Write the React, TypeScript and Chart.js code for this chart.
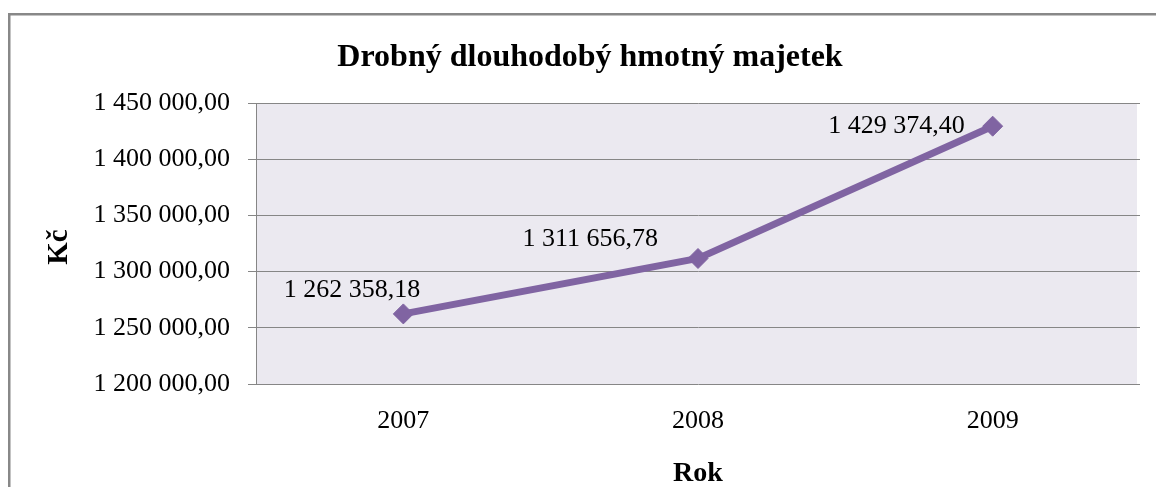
import { useEffect, useRef } from "react";
import { Chart, registerables } from "chart.js";

Chart.register(...registerables);

// Data
const years = ["2007", "2008", "2009"];
const values = [1262358.18, 1311656.78, 1429374.4];
const yMin = 1200000;
const yMax = 1450000;
const yStep = 50000;

const chartTitle = "Drobný dlouhodobý hmotný majetek";
const xAxisTitle = "Rok";
const yAxisTitle = "Kč";

// Where each value label sits relative to its point (right edge / baseline)
const labelOffsets = [
  { dx: 17, dy: -17 },
  { dx: -40, dy: -12 },
  { dx: -28, dy: 7 },
];

const FONT = "'Liberation Serif', 'Times New Roman', serif";
const LINE = "#8064a2";
const GRID = "#868686";
const PLOT_BG = "#ebe9f0";

function formatCz(v: number): string {
  const [intPart, dec] = v.toFixed(2).split(".");
  const grouped = intPart.replace(/\B(?=(\d{3})+(?!\d))/g, " ");
  return grouped + "," + dec;
}

const backdrop = {
  id: "backdrop",
  beforeDraw(chart: any) {
    const { ctx, chartArea, width, height } = chart;
    ctx.save();
    ctx.fillStyle = "#ffffff";
    ctx.fillRect(0, 0, width, height);
    // outer frame of the chart object
    ctx.strokeStyle = "#888888";
    ctx.lineWidth = 2.5;
    ctx.strokeRect(9.25, 14.25, width + 40, height + 40);
    // plot area fill
    ctx.fillStyle = PLOT_BG;
    ctx.fillRect(chartArea.left, chartArea.top, chartArea.right - chartArea.left - 3, chartArea.bottom - chartArea.top);
    ctx.restore();
  },
};

const titles = {
  id: "titles",
  afterDraw(chart: any) {
    const { ctx, chartArea } = chart;
    ctx.save();
    ctx.fillStyle = "#000000";
    ctx.textBaseline = "alphabetic";
    ctx.textAlign = "center";
    ctx.font = `bold 32px ${FONT}`;
    ctx.fillText(chartTitle, 590, 66);

    ctx.font = `bold 28px ${FONT}`;
    ctx.fillText(xAxisTitle, (chartArea.left + chartArea.right) / 2, 481);

    ctx.translate(67, 247);
    ctx.rotate(-Math.PI / 2);
    ctx.font = `bold 29px ${FONT}`;
    ctx.fillText(yAxisTitle, 0, 0);
    ctx.restore();
  },
};

const valueLabels = {
  id: "valueLabels",
  afterDatasetsDraw(chart: any) {
    const { ctx } = chart;
    const meta = chart.getDatasetMeta(0);
    ctx.save();
    ctx.fillStyle = "#000000";
    ctx.font = `26px ${FONT}`;
    ctx.textAlign = "right";
    ctx.textBaseline = "alphabetic";
    meta.data.forEach((pt: any, i: number) => {
      const off = labelOffsets[i];
      ctx.fillText(formatCz(values[i]), pt.x + off.dx, pt.y + off.dy);
    });
    ctx.restore();
  },
};

export default function App() {
  const canvasRef = useRef<HTMLCanvasElement | null>(null);

  useEffect(() => {
    document.body.style.margin = "0";
    const canvas = canvasRef.current;
    if (!canvas) return;
    const chart = new Chart(canvas, {
      type: "line",
      data: {
        labels: years,
        datasets: [
          {
            data: values,
            borderColor: LINE,
            backgroundColor: LINE,
            borderWidth: 7,
            tension: 0,
            pointStyle: "rectRot",
            pointRadius: 10,
            pointBackgroundColor: LINE,
            pointBorderColor: LINE,
            pointBorderWidth: 1,
          },
        ],
      },
      options: {
        responsive: false,
        animation: false,
        devicePixelRatio: 1,
        layout: { padding: { top: 103, right: 16, left: 0, bottom: 0 } },
        plugins: {
          legend: { display: false },
          title: { display: false },
          tooltip: { enabled: false },
        },
        scales: {
          x: {
            offset: true,
            grid: { display: false, drawTicks: false },
            border: { display: false },
            ticks: {
              color: "#000000",
              font: { family: FONT, size: 26 },
              padding: 22,
            },
            afterFit(scale: any) {
              scale.height = 103;
            },
          },
          y: {
            min: yMin,
            max: yMax,
            grid: {
              color: GRID,
              lineWidth: 1,
              drawTicks: true,
              tickLength: 8,
              tickColor: GRID,
            },
            border: { display: true, color: GRID, width: 1 },
            ticks: {
              stepSize: yStep,
              color: "#000000",
              font: { family: FONT, size: 26 },
              padding: 18,
              callback: (v: any) => formatCz(Number(v)),
            },
            afterFit(scale: any) {
              scale.width = 256;
            },
          },
        },
      },
      plugins: [backdrop, valueLabels, titles],
    });
    return () => chart.destroy();
  }, []);

  return (
    <div style={{ position: "fixed", left: 0, top: 0, width: 1156, height: 487 }}>
      <canvas ref={canvasRef} width={1156} height={487} style={{ display: "block" }} />
    </div>
  );
}
